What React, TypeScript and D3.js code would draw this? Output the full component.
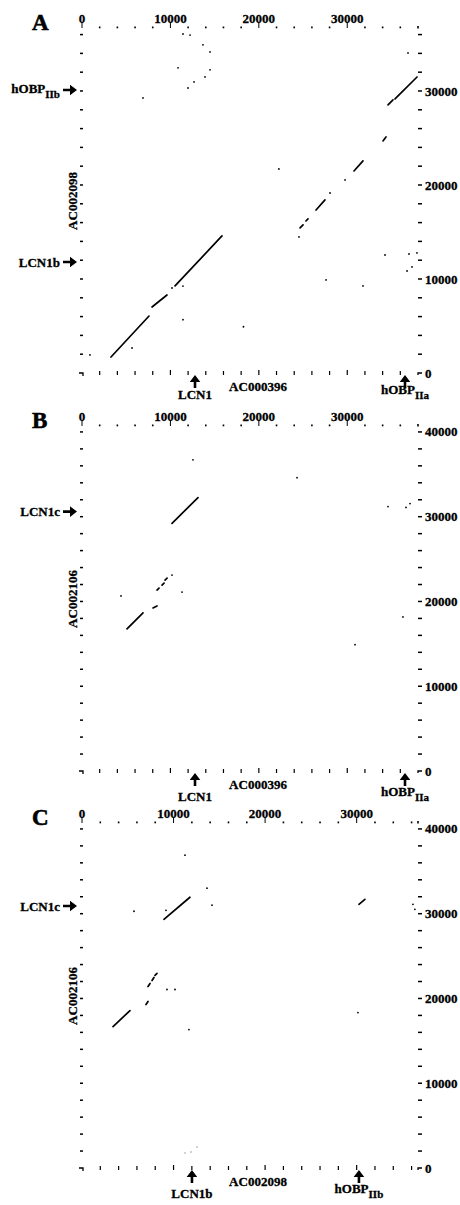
import * as d3 from 'd3';

// sequence lengths (bp)
const LEN_AC000396 = 38000;
const LEN_AC002098 = 36700;
const LEN_AC002106 = 40700;

const xTickLabels = [0, 10000, 20000, 30000];
const yTickLabelsA = [0, 10000, 20000, 30000];
const yTickLabelsBC = [0, 10000, 20000, 30000, 40000];

// panel A: AC000396 (x) vs AC002098 (y)  -- [x1, y1, x2, y2]
const segsA = [
  [3280, 1700, 7580, 6060],
  [7920, 7020, 9610, 8300],
  [10520, 9260, 15830, 14580],
  [24660, 15430, 25000, 15750],
  [25330, 16170, 25560, 16390],
  [26470, 17340, 27480, 18410],
  [30760, 21490, 31780, 22560],
  [34040, 24690, 34380, 25110],
  [34610, 28520, 35170, 29050],
  [35400, 29150, 37890, 31490],
];
const dotsA = [
  [10180, 9040], [24540, 14470], [28050, 19150], [29750, 20540],
  [22270, 21700], [27600, 9900], [18260, 4920], [11420, 5670], [11420, 9250],
  [5660, 2660], [900, 1920], [34270, 12550], [36980, 12660], [37880, 12770],
  [37320, 11280], [36760, 10850], [31780, 9260],
  [11990, 30320], [12670, 30960], [13910, 31500], [14480, 32250],
  [10860, 32460], [14480, 34160], [13680, 34910], [11420, 36060], [12220, 35950],
  [6900, 29260], [36870, 34050],
];

// panel B: AC000396 (x) vs AC002106 (y)
const segsB = [
  [10180, 29210, 13120, 32260],
  [5090, 16770, 6900, 18650],
  [8030, 19240, 8480, 19470],
  [8480, 21350, 8710, 21580],
  [9050, 21930, 9280, 22170],
  [9390, 22520, 9620, 22760],
];
const dotsB = [
  [4410, 20650], [10180, 23110], [11310, 21110], [12550, 36710], [24320, 34600],
  [37100, 31550], [36640, 31090], [34610, 31200], [36300, 18180], [30880, 14900],
];

// panel C: AC002098 (x) vs AC002106 (y)
const segsC = [
  [8950, 29340, 11790, 31940],
  [3390, 16680, 5240, 18570],
  [6990, 19280, 7210, 19640],
  [7210, 21410, 7430, 21770],
  [7650, 22120, 7860, 22480],
  [7970, 22720, 8190, 22950],
  [30250, 31110, 30900, 31700],
];
const dotsC = [
  [9170, 30400], [11250, 36910], [13650, 33010], [14200, 31000], [5680, 30290],
  [9280, 21060], [10160, 21060], [36150, 31110], [36360, 30520], [30140, 18340],
  [11680, 16330],
];
const faintC = [[11250, 1780], [11900, 1890], [12560, 2480]];

// gene markers
const leftMarksA = [{ at: 30100, label: 'hOBP', sub: 'IIb' }, { at: 11800, label: 'LCN1b', sub: '' }];
const leftMarksB = [{ at: 30600, label: 'LCN1c', sub: '' }];
const leftMarksC = [{ at: 30900, label: 'LCN1c', sub: '' }];
const bottomMarksAB = [{ at: 12780, label: 'LCN1', sub: '' }, { at: 36530, label: 'hOBP', sub: 'IIa' }];
const bottomMarksC = [{ at: 12010, label: 'LCN1b', sub: '' }, { at: 30250, label: 'hOBP', sub: 'IIb' }];

const FONT = '"Liberation Serif", "Times New Roman", serif';
const LEFT = 82;
const RIGHT = 418;
const H = 345;

type Mark = { at: number; label: string; sub: string };

function Panel({ top, letter, xLen, yLen, yLabels, segs, dots, faint = [], leftMarks, bottomMarks, xTitle, yTitle, labDy }: any) {
  const x = d3.scaleLinear().domain([0, xLen]).range([LEFT, RIGHT]);
  const y = d3.scaleLinear().domain([0, yLen]).range([top + H, top]);
  const bottom = top + H;
  const xMinor = d3.range(0, xLen, 2000);
  const yMinor = d3.range(2000, yLen, 2000);

  return (
    <g fontFamily={FONT} fontWeight="bold" fill="#000">
      <text x={32} y={top + 2} fontSize={23} stroke="#000" strokeWidth={0.6}>{letter}</text>

      {/* top axis */}
      {xMinor.map(t => t % 10000 === 0
        ? <line key={'tt' + t} x1={x(t)} x2={x(t)} y1={top - 6} y2={top} stroke="#000" strokeWidth={1} />
        : <rect key={'tt' + t} x={x(t) - 0.8} y={top - 1.5} width={1.6} height={1.8} />)}
      <rect x={RIGHT - 0.8} y={top - 2} width={1.6} height={2.5} />
      <g stroke="#000" strokeWidth={0.3}>
        {xTickLabels.map(t => (
          <text key={'tl' + t} x={x(t)} y={top - 5} fontSize={13} textAnchor="middle">{t}</text>
        ))}
      </g>

      {/* bottom axis */}
      {xMinor.slice(1).map(t => (
        <line key={'bt' + t} x1={x(t)} x2={x(t)} y1={bottom - (t % 10000 === 0 ? 3 : 2)} y2={bottom + 2} stroke="#000" strokeWidth={1.2} />
      ))}
      <path d={`M${LEFT - 3},${bottom}H${LEFT + 1}V${bottom + 3}`} fill="none" stroke="#000" strokeWidth={1.3} />
      <path d={`M${RIGHT},${bottom + 2}V${bottom}H${RIGHT + 4}`} fill="none" stroke="#000" strokeWidth={1.3} />

      {/* left / right ticks */}
      {yMinor.map(t => (
        <g key={'yt' + t}>
          <line x1={LEFT - 2} x2={LEFT + 1} y1={y(t)} y2={y(t)} stroke="#000" strokeWidth={1.5} />
          <line x1={RIGHT} x2={RIGHT + 4} y1={y(t)} y2={y(t)} stroke="#000" strokeWidth={1.5} />
        </g>
      ))}
      <g stroke="#000" strokeWidth={0.3}>
        {yLabels.map((t: number) => (
          <text key={'yl' + t} x={RIGHT + 7} y={y(t)} dy="0.35em" fontSize={13}>{t}</text>
        ))}
      </g>

      {/* dot plot */}
      {segs.map((s: number[], i: number) => (
        <line key={'s' + i} x1={x(s[0])} y1={y(s[1])} x2={x(s[2])} y2={y(s[3])} stroke="#000" strokeWidth={1.7} strokeLinecap="round" />
      ))}
      {dots.map((d: number[], i: number) => (
        <circle key={'d' + i} cx={x(d[0])} cy={y(d[1])} r={0.9} />
      ))}
      {faint.map((d: number[], i: number) => (
        <circle key={'f' + i} cx={x(d[0])} cy={y(d[1])} r={0.9} fill="#bbb" />
      ))}

      {/* axis titles */}
      <g stroke="#000" strokeWidth={0.3}>
        <text x={258} y={bottom + 18} fontSize={13} textAnchor="middle">{xTitle}</text>
        <text transform={`translate(77,${top + 173}) rotate(-90)`} fontSize={13} textAnchor="middle">{yTitle}</text>
      </g>

      {/* gene markers on left */}
      {leftMarks.map((m: Mark) => (
        <g key={'lm' + m.label}>
          <text x={60} y={y(m.at)} dy={m.sub ? '0.2em' : '0.35em'} fontSize={13} textAnchor="end" stroke="#000" strokeWidth={0.3}>
            {m.label}{m.sub && <tspan dy={5} fontSize={11}>{m.sub}</tspan>}
          </text>
          <path d={`M63,${y(m.at) - 1.3}h7v-4l7,5.3l-7,5.3v-4h-7z`} />
        </g>
      ))}

      {/* gene markers under bottom axis */}
      {bottomMarks.map((m: Mark) => (
        <g key={'bm' + m.label}>
          <path d={`M${x(m.at) - 1.3},${bottom + 15}v-6h-4l5.3,-7l5.3,7h-4v6z`} />
          <text x={x(m.at)} y={bottom + labDy - (m.sub ? 5 : 0)} fontSize={13} textAnchor="middle" stroke="#000" strokeWidth={0.3}>
            {m.label}{m.sub && <tspan dy={5} fontSize={11}>{m.sub}</tspan>}
          </text>
        </g>
      ))}
    </g>
  );
}

export default function App() {
  return (
    <svg width={460} height={1205} style={{ position: 'absolute', left: 0, top: 0, background: '#fff' }}>
      <Panel top={28} letter="A" xLen={LEN_AC000396} yLen={LEN_AC002098} yLabels={yTickLabelsA}
        segs={segsA} dots={dotsA} leftMarks={leftMarksA} bottomMarks={bottomMarksAB}
        xTitle="AC000396" yTitle="AC002098" labDy={26} />
      <Panel top={426} letter="B" xLen={LEN_AC000396} yLen={LEN_AC002106} yLabels={yTickLabelsBC}
        segs={segsB} dots={dotsB} leftMarks={leftMarksB} bottomMarks={bottomMarksAB}
        xTitle="AC000396" yTitle="AC002106" labDy={30} />
      <Panel top={823} letter="C" xLen={LEN_AC002098} yLen={LEN_AC002106} yLabels={yTickLabelsBC}
        segs={segsC} dots={dotsC} faint={faintC} leftMarks={leftMarksC} bottomMarks={bottomMarksC}
        xTitle="AC002098" yTitle="AC002106" labDy={30} />
    </svg>
  );
}
